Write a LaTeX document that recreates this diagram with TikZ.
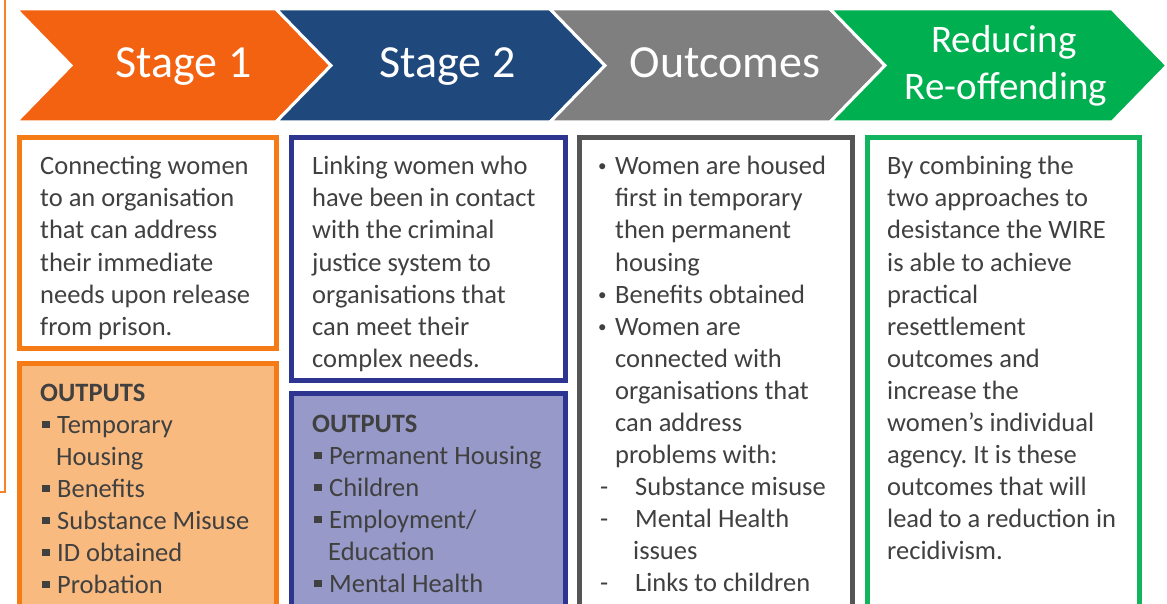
\documentclass[tikz,border=0pt]{standalone}
\usepackage{fontspec}
\setmainfont{Carlito}
\frenchspacing
\definecolor{corange}{HTML}{F36210}
\definecolor{cblue}{HTML}{1F497D}
\definecolor{cgray}{HTML}{7F7F7F}
\definecolor{cgreen}{HTML}{00B050}
\definecolor{borone}{HTML}{F47B16}
\definecolor{fillone}{HTML}{F9BA80}
\definecolor{bortwo}{HTML}{2E3590}
\definecolor{filltwo}{HTML}{9799C8}
\definecolor{borthree}{HTML}{555555}
\definecolor{borfour}{HTML}{12B45E}
\definecolor{tgray}{HTML}{404040}
\definecolor{lineorange}{HTML}{F5832A}
\newcommand\mysq{\makebox[15pt][l]{\textcolor{tgray}{\rule[5pt]{7.5pt}{7.5pt}}}}
\newcommand\mybul{\makebox[17pt][l]{\raisebox{3pt}{\fontsize{17}{17}\selectfont •}}}
\newcommand\mydash{\makebox[35pt][l]{-}}
\begin{document}
\begin{tikzpicture}[x=1pt,y=-1pt,
  txt/.style={anchor=base west, inner sep=0pt, text=tgray, font=\fontsize{26.5}{32}\selectfont},
  chev/.style={draw=white, line width=3pt, line join=miter},
  head/.style={anchor=base, inner sep=0pt, text=white, font=\fontsize{46}{54}\selectfont},
  headsm/.style={anchor=base, inner sep=0pt, text=white, font=\fontsize{39}{47}\selectfont},
  boxframe/.style={line width=5pt}]
\useasboundingbox (0,0) rectangle (1167,604);

% left orange frame line
\draw[lineorange, line width=2pt] (5,-2) -- (5,492) -- (-2,492);

% chevrons
\filldraw[chev, fill=corange] (16,9) -- (276,9) -- (331,65.5) -- (276,122) -- (16,122) -- (71,65.5) -- cycle;
\filldraw[chev, fill=cblue] (276,9) -- (550,9) -- (605,65.5) -- (550,122) -- (276,122) -- (331,65.5) -- cycle;
\filldraw[chev, fill=cgray] (550,9) -- (830,9) -- (885,65.5) -- (830,122) -- (550,122) -- (605,65.5) -- cycle;
\filldraw[chev, fill=cgreen] (830,9) -- (1112,9) -- (1167,65.5) -- (1112,122) -- (830,122) -- (885,65.5) -- cycle;

\node[head] (h1) at (183.5,78) {Stage 1};
\node[head] (h2) at (447.5,78) {Stage 2};
\node[head] (h3) at (725,78) {Outcomes};
\node[headsm] (h4a) at (1004,53) {Reducing};
\node[headsm] (h4b) at (1006,100) {Re-offending};

% boxes
\draw[boxframe, draw=borone, fill=white] (19.5,137.5) rectangle (276.5,348.5);
\draw[boxframe, draw=borone, fill=fillone] (19.5,363.5) rectangle (276.5,615);
\draw[boxframe, draw=bortwo, fill=white] (291.5,137.5) rectangle (565.5,380.5);
\draw[boxframe, draw=bortwo, fill=filltwo] (291.5,393.5) rectangle (565.5,615);
\draw[boxframe, draw=borthree, fill=white] (579.5,137.5) rectangle (852.5,615);
\draw[boxframe, draw=borfour, fill=white] (867.5,137.5) rectangle (1139.5,615);

% box 1 text
\foreach \t [count=\i] in {Connecting women, to an organisation, that can address, their immediate, needs upon release, from prison.}
  \node[txt] (a\i) at (40,{175+32*(\i-1)}) {\t};

% box 2 text
\foreach \t [count=\i] in {Linking women who, have been in contact, with the criminal, justice system to, organisations that, can meet their, complex needs.}
  \node[txt] (b\i) at (312,{175+32*(\i-1)}) {\t};

% outcomes text
\foreach \i/\x/\t in {1/598/\mybul Women are housed, 2/615/first in temporary, 3/615/then permanent, 4/615/housing, 5/598/\mybul Benefits obtained, 6/598/\mybul Women are, 7/615/connected with, 8/615/organisations that, 9/615/can address, 10/615/problems with:, 11/600/\mydash Substance misuse, 12/600/\mydash Mental Health, 13/633/issues, 14/600/\mydash Links to children}
  \node[txt] (c\i) at (\x,{175+32*(\i-1)}) {\t};

% green box text
\foreach \t [count=\i] in {By combining the, two approaches to, desistance the WIRE, is able to achieve, practical, resettlement, outcomes and, increase the, women’s individual, agency. It is these, outcomes that will, lead to a reduction in, recidivism.}
  \node[txt] (d\i) at (887,{175+32*(\i-1)}) {\t};

% outputs 1
\node[txt, font=\fontsize{26.5}{32}\selectfont\bfseries] (o1) at (40,401) {OUTPUTS};
\foreach \i/\x/\t in {1/42/\mysq Temporary, 2/56/Housing, 3/42/\mysq Benefits, 4/42/\mysq Substance Misuse, 5/42/\mysq ID obtained, 6/42/\mysq Probation}
  \node[txt] (p\i) at (\x,{433+32*(\i-1)}) {\t};

% outputs 2
\node[txt, font=\fontsize{26.5}{32}\selectfont\bfseries] (o2) at (312,432) {OUTPUTS};
\foreach \i/\x/\t in {1/314/{\mysq Permanent Housing}, 2/314/{\mysq Children}, 3/314/{\mysq Employment/}, 4/328/{Education}, 5/314/{\mysq Mental Health}}
  \node[txt] (q\i) at (\x,{464+32*(\i-1)}) {\t};
\end{tikzpicture}
\end{document}
